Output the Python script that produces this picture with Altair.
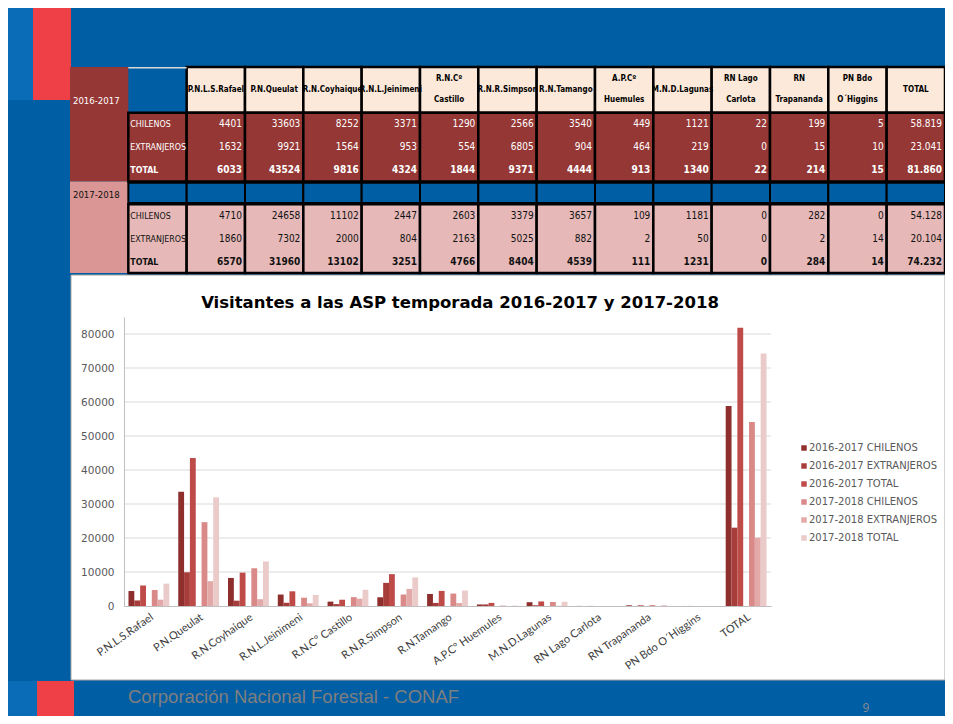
import json
import altair as alt
import pandas as pd

# ---------------- data ----------------
PARKS = ["P.N.L.S.Rafael", "P.N.Queulat", "R.N.Coyhaique", "R.N.L.Jeinimeni",
         "R.N.Cº Castillo", "R.N.R.Simpson", "R.N.Tamango", "A.P.Cº Huemules",
         "M.N.D.Lagunas", "RN Lago Carlota", "RN Trapananda", "PN Bdo O´Higgins",
         "TOTAL"]
HEADER_LABELS = ["P.N.L.S.Rafael", "P.N.Queulat", "R.N.Coyhaique", "R.N.L.Jeinimeni",
                 "R.N.Cº\nCastillo", "R.N.R.Simpson", "R.N.Tamango", "A.P.Cº\nHuemules",
                 "M.N.D.Lagunas", "RN Lago\nCarlota", "RN\nTrapananda", "PN Bdo\nO´Higgins",
                 "TOTAL"]
SEASONS = ["2016-2017", "2017-2018"]
TYPES = ["CHILENOS", "EXTRANJEROS", "TOTAL"]

CH_1617 = [4401, 33603, 8252, 3371, 1290, 2566, 3540, 449, 1121, 22, 199, 5, 58819]
EX_1617 = [1632, 9921, 1564, 953, 554, 6805, 904, 464, 219, 0, 15, 10, 23041]
TO_1617 = [6033, 43524, 9816, 4324, 1844, 9371, 4444, 913, 1340, 22, 214, 15, 81860]
CH_1718 = [4710, 24658, 11102, 2447, 2603, 3379, 3657, 109, 1181, 0, 282, 0, 54128]
EX_1718 = [1860, 7302, 2000, 804, 2163, 5025, 882, 2, 50, 0, 2, 14, 20104]
TO_1718 = [6570, 31960, 13102, 3251, 4766, 8404, 4539, 111, 1231, 0, 284, 14, 74232]

Y_TICKS = [0, 10000, 20000, 30000, 40000, 50000, 60000, 70000, 80000]
TITLE = "Visitantes a las ASP temporada 2016-2017 y 2017-2018"
FOOTER = "Corporación Nacional Forestal - CONAF"
PAGE_NO = "9"

# ---------------- styles ----------------
BLUE = "#005EA5"
LIGHT_BLUE = "#0A6CB7"
STRIPE_RED = "#EE4046"
DARK_RED = "#953735"
PINK = "#E6B9B8"
PINK_YEAR = "#D99694"
PEACH = "#FDE9D9"
SERIES_COLORS = ["#8E2F2E", "#A73D3B", "#BE4B48", "#D98A88", "#E2A9A8", "#EBCACA"]
TFONT = "Liberation Sans Narrow, DejaVu Sans Condensed, Arial Narrow, Liberation Sans, sans-serif"

W, H = 937, 708
HALF_BAND = 875 / 15 / 2

# ---------------- tables ----------------
series_vals = {
    ("2016-2017", "CHILENOS"): CH_1617, ("2016-2017", "EXTRANJEROS"): EX_1617,
    ("2016-2017", "TOTAL"): TO_1617, ("2017-2018", "CHILENOS"): CH_1718,
    ("2017-2018", "EXTRANJEROS"): EX_1718, ("2017-2018", "TOTAL"): TO_1718,
}
rows = []
for (s, t), vals in series_vals.items():
    for p, v in zip(PARKS, vals):
        rows.append({"season": s, "type": t, "park": p, "value": v, "series": f"{s} {t}"})
df = pd.DataFrame(rows)
SERIES = [f"{s} {t}" for s in SEASONS for t in TYPES]
OFFSET_DOMAIN = SERIES[:3] + ["_gap"] + SERIES[3:]

TABLE_COLS = ["Y", "L"] + PARKS
S_JS = json.dumps(SEASONS)
T_JS = json.dumps(TYPES)

one = pd.DataFrame({"a": [0]})

tx = alt.Scale(domain=TABLE_COLS, range=[62, 937], paddingInner=0, paddingOuter=0)
ty = alt.Scale(domain=[-2, 7], range=[59, 265], nice=False, zero=False)


def box(x0, x1, y0, y1, color, **kw):
    return alt.Chart(one).mark_rect(color=color, **kw).encode(
        x=alt.value(x0), x2=alt.value(x1), y=alt.value(y0), y2=alt.value(y1))


deco = [
    box(0, 25, 0, 92, LIGHT_BLUE),
    box(25, 63, 0, 92, STRIPE_RED),
    box(0, 29, 673, 708, LIGHT_BLUE),
    box(29, 66, 673, 708, STRIPE_RED),
    box(63, 937, 267, 672, "white", stroke="#A6A6A6", strokeWidth=1),
]

season_color = lambda rng: alt.Color("season:N", scale=alt.Scale(domain=SEASONS, range=rng), legend=None)

year_df = pd.DataFrame({"season": SEASONS})
year_rect = alt.Chart(year_df).transform_calculate(
    col="'Y'", i=f"indexof({S_JS}, datum.season)",
    y0="datum.i == 0 ? -2 : 3", y1="datum.i == 0 ? 3 : 7",
).mark_rect().encode(
    x=alt.X("col:N", scale=tx, axis=None),
    y=alt.Y("y0:Q", scale=ty, axis=None), y2="y1:Q",
    color=season_color([DARK_RED, PINK_YEAR]))

year_text = alt.Chart(year_df).transform_calculate(
    col="'Y'", i=f"indexof({S_JS}, datum.season)",
    yc="datum.i == 0 ? -0.5 : 3.6",
).mark_text(align="left", baseline="middle", dx=-HALF_BAND + 3, font=TFONT, fontSize=9.5).encode(
    x=alt.X("col:N", scale=tx, axis=None),
    y=alt.Y("yc:Q", scale=ty, axis=None),
    text="season:N",
    color=season_color(["white", "#111111"]))

hdr_df = pd.DataFrame({"park": PARKS, "label": HEADER_LABELS})
hdr_rect = alt.Chart(hdr_df).transform_calculate(y0="-2", y1="0").mark_rect(
    color=PEACH, stroke="black", strokeWidth=2.5).encode(
    x=alt.X("park:N", scale=tx, axis=None),
    y=alt.Y("y0:Q", scale=ty, axis=None), y2="y1:Q")
hdr_text = alt.Chart(hdr_df).transform_calculate(
    yc="indexof(datum.label, '\\n') >= 0 ? -1.46 : -1").mark_text(
    align="center", baseline="middle", lineBreak="\n", lineHeight=21,
    font=TFONT, fontSize=8, fontWeight="bold", color="black").encode(
    x=alt.X("park:N", scale=tx, axis=None),
    y=alt.Y("yc:Q", scale=ty, axis=None),
    text="label:N")

lhdr_line = alt.Chart(one).transform_calculate(col="'L'", y0="-2", y1="-1.93").mark_rect(
    color="#D9D9D9").encode(
    x=alt.X("col:N", scale=tx, axis=None),
    y=alt.Y("y0:Q", scale=ty, axis=None), y2="y1:Q")

block_df = pd.DataFrame([{"season": s, "col": c} for s in SEASONS for c in ["L"] + PARKS])
block_rect = alt.Chart(block_df).transform_calculate(
    i=f"indexof({S_JS}, datum.season)", y0="4*datum.i", y1="4*datum.i+3",
).mark_rect(stroke="black", strokeWidth=2.5).encode(
    x=alt.X("col:N", scale=tx, axis=None),
    y=alt.Y("y0:Q", scale=ty, axis=None), y2="y1:Q",
    color=season_color([DARK_RED, PINK]))

sep_df = pd.DataFrame({"col": ["L"] + PARKS})
sep_rect = alt.Chart(sep_df).transform_calculate(y0="3.06", y1="3.94").mark_rect(
    color=BLUE, stroke="black", strokeWidth=2).encode(
    x=alt.X("col:N", scale=tx, axis=None),
    y=alt.Y("y0:Q", scale=ty, axis=None), y2="y1:Q")

rowlab_df = pd.DataFrame([{"season": s, "type": t} for s in SEASONS for t in TYPES])


def rowlab(bold):
    flt = "datum.type == 'TOTAL'" if bold else "datum.type != 'TOTAL'"
    return alt.Chart(rowlab_df).transform_filter(flt).transform_calculate(
        col="'L'",
        yc=f"indexof({T_JS}, datum.type) + 4*indexof({S_JS}, datum.season) + 0.5",
    ).mark_text(align="left", baseline="middle", dx=-HALF_BAND + 2, font=TFONT, fontSize=8.8,
                fontWeight="bold" if bold else "normal").encode(
        x=alt.X("col:N", scale=tx, axis=None),
        y=alt.Y("yc:Q", scale=ty, axis=None),
        text="type:N",
        color=season_color(["white", "#111111"]))


def vals(bold):
    flt = "datum.type == 'TOTAL'" if bold else "datum.type != 'TOTAL'"
    return alt.Chart(df).transform_filter(flt).transform_calculate(
        yc=f"indexof({T_JS}, datum.type) + 4*indexof({S_JS}, datum.season) + 0.5",
        label="datum.park == 'TOTAL' ? replace(format(datum.value, ','), ',', '.') : '' + datum.value",
    ).mark_text(align="right", baseline="middle", dx=HALF_BAND - 3, font=TFONT, fontSize=10,
                fontWeight="bold" if bold else "normal").encode(
        x=alt.X("park:N", scale=tx, axis=None),
        y=alt.Y("yc:Q", scale=ty, axis=None),
        text="label:N",
        color=season_color(["white", "#111111"]))


table = [year_rect, hdr_rect, lhdr_line, block_rect, sep_rect, year_text, hdr_text,
         rowlab(False), rowlab(True), vals(False), vals(True)]

# ---------------- bar chart ----------------
xs = alt.Scale(domain=PARKS, range=[116, 763], paddingInner=0.18, paddingOuter=0.09)
ys = alt.Scale(domain=[0, 85000], range=[598, 309], nice=False, zero=True)

grid = alt.Chart(pd.DataFrame({"value": Y_TICKS[1:]})).mark_rule(
    color="#D9D9D9", strokeWidth=1).encode(
    y=alt.Y("value:Q", scale=ys, axis=None), x=alt.value(116), x2=alt.value(763))

bars = alt.Chart(df).mark_bar().encode(
    x=alt.X("park:N", scale=xs, title=None, sort=PARKS,
            axis=alt.Axis(orient="bottom", offset=-110, labelAngle=325, ticks=False,
                          domainColor="#BFBFBF", labelFont="Lato", labelFontSize=11,
                          labelColor="#404040", labelPadding=5, zindex=1)),
    xOffset=alt.XOffset("series:N", scale=alt.Scale(domain=OFFSET_DOMAIN, paddingInner=0, paddingOuter=0)),
    y=alt.Y("value:Q", scale=ys, title=None,
            axis=alt.Axis(orient="left", offset=-116, values=Y_TICKS, format="d", grid=False,
                          ticks=False, domainColor="#BFBFBF", labelFont="DejaVu Sans",
                          labelFontSize=10.5, labelColor="#595959", labelPadding=10, zindex=1)),
    color=alt.Color("series:N", scale=alt.Scale(domain=SERIES, range=SERIES_COLORS),
                    legend=alt.Legend(orient="none", legendX=791, legendY=435, title=None,
                                      symbolType="square", symbolSize=30, symbolStrokeWidth=0,
                                      labelFont="DejaVu Sans", labelFontSize=10, labelOffset=0,
                                      labelColor="#595959", rowPadding=8, padding=0)),
)

title = alt.Chart(pd.DataFrame({"t": [TITLE]})).mark_text(
    font="DejaVu Sans", fontSize=16.5, fontWeight="bold", align="center", color="black").encode(
    text="t:N", x=alt.value(452), y=alt.value(295))

footer = alt.Chart(pd.DataFrame({"t": [FOOTER]})).mark_text(
    font="Liberation Sans", fontSize=18.5, align="left", color="#7F7F7F").encode(
    text="t:N", x=alt.value(120), y=alt.value(689))

page = alt.Chart(pd.DataFrame({"t": [PAGE_NO]})).mark_text(
    font="Open Sans", fontSize=12, align="center", color="#8C8C8C").encode(
    text="t:N", x=alt.value(858), y=alt.value(700))

chart = alt.layer(*deco, *table, grid, bars, title, footer, page).resolve_scale(
    x="independent", y="independent", color="independent"
).properties(
    width=W, height=H, autosize=alt.AutoSizeParams(type="none"), padding=0,
    background=BLUE,
).configure_view(stroke=None)

chart.save("out.html", embed_options={"renderer": "svg", "actions": False})
